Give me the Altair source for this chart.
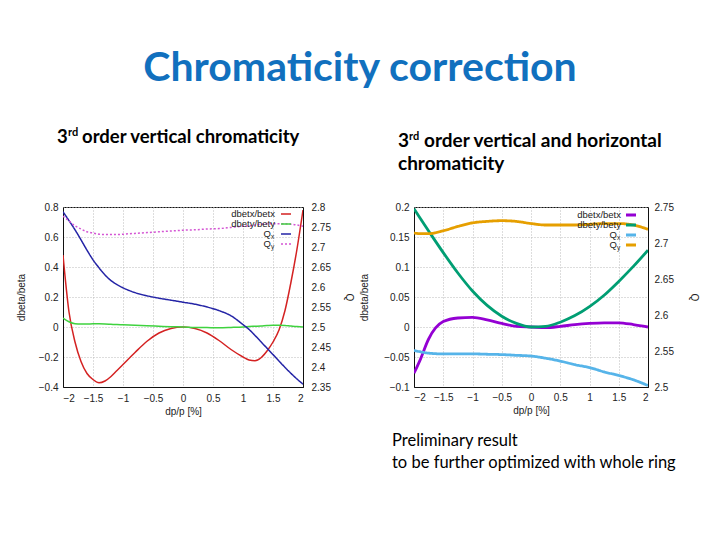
import altair as alt
import pandas as pd

# ---------------- data ----------------
DP_L = [-2.0, -1.9, -1.8, -1.7, -1.6, -1.5, -1.4, -1.3, -1.2, -1.1, -1.0, -0.8, -0.6, -0.4, -0.2,
        0.0, 0.2, 0.4, 0.6, 0.8, 1.0, 1.1, 1.2, 1.3, 1.4, 1.5, 1.6, 1.7, 1.8, 1.9, 2.0]
L_DBETX = [0.48, 0.10, -0.10, -0.23, -0.31, -0.35, -0.372, -0.36, -0.33, -0.29, -0.25, -0.17, -0.095,
           -0.04, -0.01, 0.0, -0.01, -0.04, -0.09, -0.15, -0.20, -0.22, -0.225, -0.205, -0.16, -0.10,
           -0.02, 0.11, 0.30, 0.52, 0.78]
L_DBETY = [0.06, 0.035, 0.022, 0.02, 0.02, 0.021, 0.021, 0.02, 0.018, 0.016, 0.015, 0.012, 0.008,
           0.005, 0.002, 0.0, -0.003, -0.004, -0.005, -0.003, 0.0, 0.003, 0.005, 0.007, 0.01, 0.012,
           0.012, 0.01, 0.006, 0.003, 0.0]
L_QX = [2.788, 2.766, 2.743, 2.718, 2.692, 2.668, 2.648, 2.630, 2.616, 2.606, 2.598, 2.586, 2.578,
        2.572, 2.567, 2.562, 2.557, 2.550, 2.541, 2.528, 2.506, 2.494, 2.479, 2.463, 2.447, 2.431,
        2.415, 2.399, 2.384, 2.370, 2.357]
L_QY = [2.777, 2.765, 2.753, 2.745, 2.738, 2.735, 2.732, 2.731, 2.731, 2.731, 2.732, 2.734, 2.736,
        2.738, 2.740, 2.742, 2.743, 2.745, 2.746, 2.749, 2.752, 2.753, 2.755, 2.757, 2.758, 2.758,
        2.758, 2.758, 2.757, 2.755, 2.752]

DP_R = [-2.0, -1.9, -1.75, -1.5, -1.25, -1.0, -0.75, -0.5, -0.25, 0.0, 0.25, 0.5, 0.75, 1.0, 1.25,
        1.5, 1.75, 2.0]
R_DBETX = [-0.077, -0.056, -0.02, 0.009, 0.015, 0.016, 0.012, 0.006, 0.001, 0.0, -0.001, 0.001,
           0.004, 0.006, 0.007, 0.007, 0.004, 0.0]
R_DBETY = [0.197, 0.182, 0.160, 0.124, 0.090, 0.060, 0.036, 0.018, 0.006, 0.0, 0.001, 0.008, 0.019,
           0.034, 0.053, 0.076, 0.101, 0.128]
R_QX = [2.551, 2.549, 2.547, 2.546, 2.546, 2.546, 2.5455, 2.545, 2.544, 2.543, 2.540, 2.536, 2.531,
        2.527, 2.521, 2.516, 2.510, 2.502]
R_QY = [2.714, 2.713, 2.713, 2.717, 2.723, 2.728, 2.730, 2.731, 2.730, 2.727, 2.725, 2.725, 2.725,
        2.726, 2.727, 2.727, 2.725, 2.719]

SERIES = ["dbetx/betx", "dbety/bety", "Qx", "Qy"]
LEGEND_MAIN = ["dbetx/betx", "dbety/bety", "Q", "Q"]
LEGEND_SUB = ["", "", "x", "y"]
COLORS_L = ["#d42222", "#3fd23f", "#2424a6", "#d455d4"]
COLORS_R = ["#9400d3", "#009e73", "#56b4e9", "#e69f00"]

X_TICKS = [-2, -1.5, -1, -0.5, 0, 0.5, 1, 1.5, 2]
L_YTICKS = [-0.4, -0.2, 0, 0.2, 0.4, 0.6, 0.8]
L_QTICKS = [2.35, 2.4, 2.45, 2.5, 2.55, 2.6, 2.65, 2.7, 2.75, 2.8]
R_YTICKS = [-0.1, -0.05, 0, 0.05, 0.1, 0.15, 0.2]
R_QTICKS = [2.5, 2.55, 2.6, 2.65, 2.7, 2.75]

TITLE = "Chromaticity correction"
SUB_L = ["3", "rd", "order vertical chromaticity"]
SUB_R = ["3", "rd", "order vertical and horizontal", "chromaticity"]
NOTE = ["Preliminary result", "to be further optimized with whole ring"]

AX_FONT = "Liberation Sans"
TXT_FONT = "Lato"


def long_df(dp, names, arrays):
    rows = []
    for n, arr in zip(names, arrays):
        for x, v in zip(dp, arr):
            rows.append({"dp": x, "v": v, "s": n})
    return pd.DataFrame(rows)


def text_mark(txt, x, y, size, weight="normal", align="left", color="#000", font=TXT_FONT):
    return alt.Chart(pd.DataFrame({"t": [txt]})).mark_text(
        align=align, baseline="alphabetic", fontSize=size, fontWeight=weight,
        font=font, color=color
    ).encode(x=alt.value(x), y=alt.value(y), text="t:N")


def panel(dp, betas, qs, colors, W, H, lw, ydom, yticks, qdom, qticks, qy_dash,
          pads, leg_text_x, leg_x0, leg_x1, leg_ys, extras):
    x_enc = alt.X("dp:Q", scale=alt.Scale(domain=[-2, 2], nice=False, zero=False),
                  axis=alt.Axis(values=X_TICKS, format="~g", title="dp/p [%]", grid=True,
                                labelPadding=pads["xl"], titlePadding=pads["xt"]))
    bdf = long_df(dp, SERIES[:2], betas)
    qdf = long_df(dp, SERIES[2:], qs)
    beta = alt.Chart(bdf).mark_line(strokeWidth=lw, interpolate="monotone", clip=True).encode(
        x=x_enc,
        y=alt.Y("v:Q", scale=alt.Scale(domain=ydom, nice=False, zero=False),
                axis=alt.Axis(values=yticks, format="~g", title="dbeta/beta", orient="left",
                              grid=True, labelPadding=pads["yl"], titlePadding=pads["yt"])),
        color=alt.Color("s:N", scale=alt.Scale(domain=SERIES[:2], range=colors[:2]), legend=None),
    )
    q = alt.Chart(qdf).mark_line(strokeWidth=lw, interpolate="monotone", clip=True).encode(
        x=x_enc,
        y=alt.Y("v:Q", scale=alt.Scale(domain=qdom, nice=False, zero=False),
                axis=alt.Axis(values=qticks, format="~g", title="Q", orient="right",
                              grid=False, labelPadding=pads["ql"], titlePadding=pads["qt"])),
        color=alt.Color("s:N", scale=alt.Scale(domain=SERIES[2:], range=colors[2:]), legend=None),
        strokeDash=alt.StrokeDash("s:N", scale=alt.Scale(domain=SERIES[2:], range=[[1, 0], qy_dash]),
                                  legend=None),
    )
    layers = []
    # gnuplot-style key (labels right-aligned, sample line on the right)
    for i in range(4):
        if LEGEND_SUB[i]:
            layers.append(text_mark(LEGEND_MAIN[i], leg_text_x - 4, leg_ys[i] + 3, 9.5,
                                    align="right", color="#222", font=AX_FONT))
            layers.append(text_mark(LEGEND_SUB[i], leg_text_x - 4, leg_ys[i] + 5, 6.5,
                                    align="left", color="#222", font=AX_FONT))
        else:
            layers.append(text_mark(LEGEND_MAIN[i], leg_text_x, leg_ys[i] + 3, 9.5,
                                    align="right", color="#222", font=AX_FONT))
        dash = qy_dash if i == 3 else [1, 0]
        layers.append(
            alt.Chart(pd.DataFrame({"s": [SERIES[i]]})).mark_rule(
                color=colors[i], strokeWidth=lw, strokeDash=dash
            ).encode(x=alt.value(leg_x0), x2=alt.value(leg_x1), y=alt.value(leg_ys[i]))
        )
    layers.extend(extras)
    return alt.layer(beta, q, *layers).resolve_scale(
        y="independent", color="independent", strokeDash="independent"
    ).properties(width=W, height=H)


left_extras = [
    text_mark(TITLE, 297, -126, 41, weight="bold", align="center", color="#1170be"),
    text_mark(SUB_L[0], -6, -64, 18.5, weight="bold"),
    text_mark(SUB_L[1], 5, -71, 11, weight="bold"),
    text_mark(SUB_L[2], 19, -64, 18.5, weight="bold"),
]
right_extras = [
    text_mark(SUB_R[0], -16, -60, 19, weight="bold"),
    text_mark(SUB_R[1], -5, -67, 11, weight="bold"),
    text_mark(SUB_R[2], 10, -60, 19, weight="bold"),
    text_mark(SUB_R[3], -16, -37, 19, weight="bold"),
    text_mark(NOTE[0], -22, 239, 16.5),
    text_mark(NOTE[1], -22, 261, 16.5),
]

left = panel(DP_L, [L_DBETX, L_DBETY], [L_QX, L_QY], COLORS_L, 240, 180, 1.5,
             [-0.4, 0.8], L_YTICKS, [2.35, 2.8], L_QTICKS, [2, 2],
             {"xl": 6, "xt": 3, "yl": 5, "yt": 12, "ql": 8, "qt": 13},
             212, 218, 228, [7, 17, 27, 37], left_extras)
right = panel(DP_R, [R_DBETX, R_DBETY], [R_QX, R_QY], COLORS_R, 234, 180, 2.8,
              [-0.1, 0.2], R_YTICKS, [2.5, 2.75], R_QTICKS, [1, 0],
              {"xl": 5, "xt": 3, "yl": 5, "yt": 14, "ql": 6, "qt": 15},
              207, 212, 222, [8, 18, 28, 38], right_extras)

chart = alt.hconcat(left, right, spacing=111, bounds="flush").properties(
    padding={"left": 7, "top": 39, "right": 5, "bottom": 5},
    background="white",
).configure_view(stroke="#111", strokeWidth=1).configure_axis(
    labelFont=AX_FONT, labelFontSize=10, labelColor="#222",
    titleFont=AX_FONT, titleFontSize=10, titleFontWeight="normal", titleColor="#222",
    ticks=False, domainColor="#111",
    gridColor="#bbbbbb", gridDash=[1, 2], gridWidth=1,
)

chart.save("out.html", embed_options={"renderer": "svg", "actions": False})
